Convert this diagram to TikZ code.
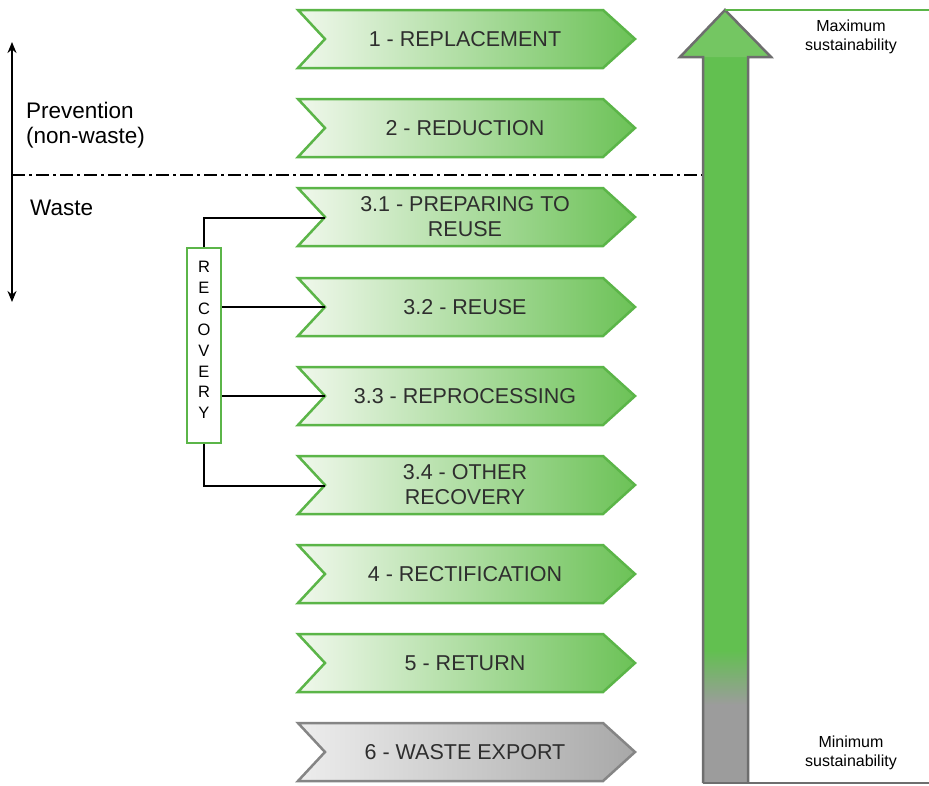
\documentclass[tikz,border=0pt]{standalone}
\usepackage{fontspec}
\setmainfont{Liberation Sans}
\usetikzlibrary{arrows.meta}
\definecolor{gborder}{HTML}{5BB548}
\definecolor{glight}{HTML}{F0F8EC}
\definecolor{gmid}{HTML}{C6E6B8}
\definecolor{gdark}{HTML}{6CC257}
\definecolor{grborder}{HTML}{858585}
\definecolor{grlight}{HTML}{EDEDED}
\definecolor{grmid}{HTML}{D4D4D4}
\definecolor{grdark}{HTML}{A8A8A8}
\definecolor{txt}{HTML}{2E2E2E}
\definecolor{arrgreen}{HTML}{62C050}
\definecolor{arrhead}{HTML}{74C662}
\definecolor{arrgray}{HTML}{9C9C9C}
\definecolor{arredge}{HTML}{6E6E6E}
\newcommand\chevshape[5]{% y, left, mid, right, border
  \draw[line width=2.5pt, draw=#5, left color=#2, middle color=#3, right color=#4, line join=miter]
    (298,#1-29) -- (603,#1-29) -- (635,#1) -- (603,#1+29) -- (298,#1+29) -- (325,#1) -- cycle;}
\begin{document}
\begin{tikzpicture}[x=1pt,y=-1pt,
  chevtxt/.style={text=txt, font=\fontsize{21.5}{25}\selectfont, align=center, inner sep=0pt},
  sidetxt/.style={text=black, font=\fontsize{22.5}{25}\selectfont, align=left, anchor=west, inner sep=0pt},
  smalltxt/.style={text=black, font=\fontsize{16}{19}\selectfont, align=center, inner sep=0pt},
  recbox/.style={draw=gborder, line width=2pt, fill=white, minimum width=34pt, minimum height=195pt, inner sep=0pt},
  conn/.style={draw=black, line width=1.3pt},
  dblarrow/.style={draw=black, line width=2pt, {Stealth[length=11pt,width=9pt]}-{Stealth[length=11pt,width=9pt]}},
  dashdot/.style={draw=black, line width=1.6pt, dash pattern=on 13pt off 4pt on 3pt off 4pt}
]
\useasboundingbox (0,0) rectangle (929,785);
\fill[white] (0,0) rectangle (929,785);

% dash-dot separator
\coordinate (dl) at (12,175);
\coordinate (dr) at (703,175);
\draw[dashdot] (dl) -- (dr);

% left double arrow
\coordinate (la1) at (12,42);
\coordinate (la2) at (12,302);
\draw[dblarrow] (la1) -- (la2);

\node[sidetxt] (prev) at (26,125) {Prevention\\(non-waste)};
\node[sidetxt] (waste) at (30,208) {Waste};

% chevrons
\chevshape{39}{glight}{gmid}{gdark}{gborder}
\chevshape{128}{glight}{gmid}{gdark}{gborder}
\chevshape{217}{glight}{gmid}{gdark}{gborder}
\chevshape{307}{glight}{gmid}{gdark}{gborder}
\chevshape{396}{glight}{gmid}{gdark}{gborder}
\chevshape{485}{glight}{gmid}{gdark}{gborder}
\chevshape{574}{glight}{gmid}{gdark}{gborder}
\chevshape{663}{glight}{gmid}{gdark}{gborder}
\chevshape{752}{grlight}{grmid}{grdark}{grborder}

\node[chevtxt] (t1) at (465,39) {1 - REPLACEMENT};
\node[chevtxt] (t2) at (465,128) {2 - REDUCTION};
\node[chevtxt] (t31) at (465,217) {3.1 - PREPARING TO\\REUSE};
\node[chevtxt] (t32) at (465,307) {3.2 - REUSE};
\node[chevtxt] (t33) at (465,396) {3.3 - REPROCESSING};
\node[chevtxt] (t34) at (465,485) {3.4 - OTHER\\RECOVERY};
\node[chevtxt] (t4) at (465,574) {4 - RECTIFICATION};
\node[chevtxt] (t5) at (465,663) {5 - RETURN};
\node[chevtxt] (t6) at (465,752) {6 - WASTE EXPORT};

\coordinate (n31) at (325,218);
\coordinate (n32) at (325,307);
\coordinate (n33) at (325,396);
\coordinate (n34) at (325,486);

% recovery box
\node[recbox] (rec) at (204,345.5) {};
\node[text=black, font=\fontsize{16.5}{20.9}\selectfont, align=center, inner sep=0pt] (rectxt) at (204,340) {R\\E\\C\\O\\V\\E\\R\\Y};

\draw[conn] (rec.north) |- (n31);
\draw[conn] (rec.east |- n32) -- (n32);
\draw[conn, line width=2pt] (rec.east |- n33) -- (n33);
\draw[conn] (rec.south) |- (n34);

% big arrow
\coordinate (tip) at (725,10);
\coordinate (bl) at (703,783);
\coordinate (br) at (748,783);
\fill[arrgreen] (703,783) -- (703,57) -- (748,57) -- (748,783) -- cycle;
\fill[arrhead] (703,57) -- (680,57) -- (tip) -- (771,57) -- (748,57) -- cycle;
\shade[top color=arrgreen, bottom color=arrgray] (703,650) rectangle (748,705);
\fill[arrgray] (703,705) rectangle (748,783);
\draw[arredge, line width=2.5pt, line join=miter] (bl) -- (703,57) -- (680,57) -- (tip) -- (771,57) -- (748,57) -- (br);
\coordinate (topr) at (929,10);
\coordinate (botr) at (929,783);
\draw[gborder, line width=2pt] (tip) -- (topr);
\draw[arredge, line width=2.5pt] (bl) -- (br) -- (botr);

\node[smalltxt] (maxs) at (851,37) {Maximum\\sustainability};
\node[smalltxt] (mins) at (851,753) {Minimum\\sustainability};
\end{tikzpicture}
\end{document}
